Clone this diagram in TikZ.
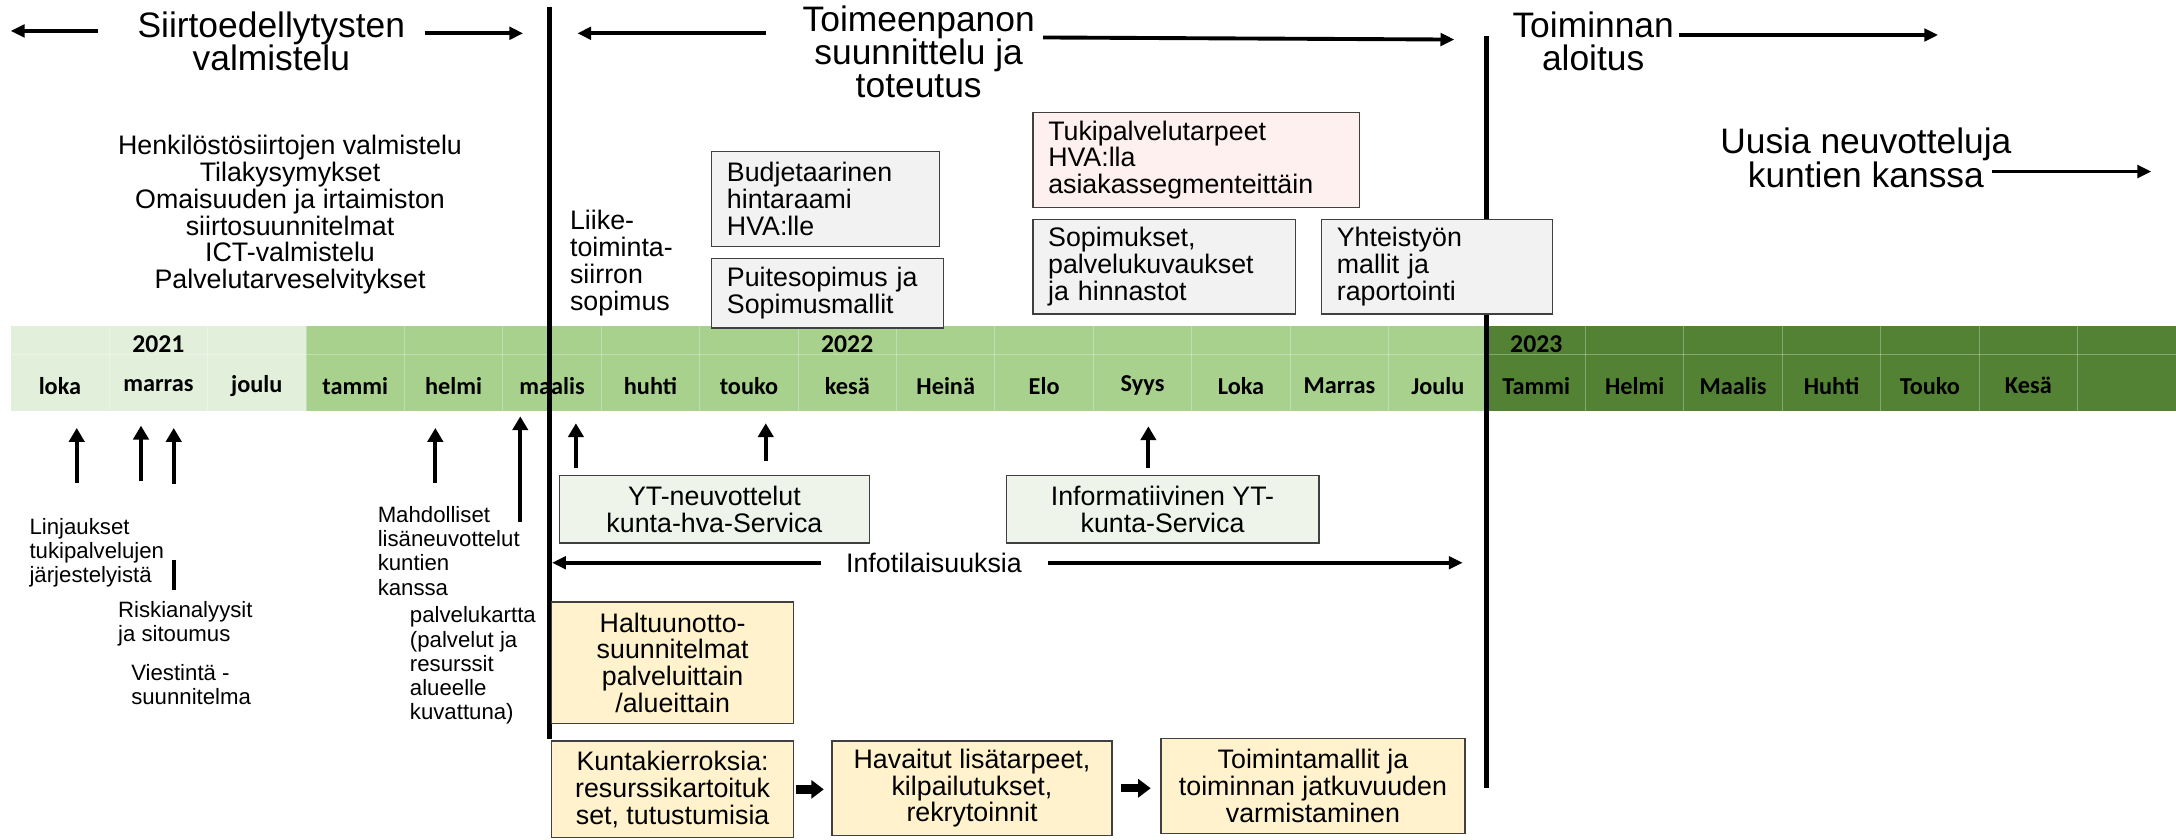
\documentclass[tikz,border=0pt]{standalone}
\usepackage{fontspec}
\setmainfont{Liberation Sans}
\newfontfamily\calibri{Carlito}
\usetikzlibrary{arrows.meta}
\usetikzlibrary{positioning}

\definecolor{kk21}{HTML}{E2EFDA}
\definecolor{kk22}{HTML}{A9D18E}
\definecolor{kk23}{HTML}{548235}
\definecolor{harmaa}{HTML}{F2F2F2}
\definecolor{roosa}{HTML}{FDF0EF}
\definecolor{minttu}{HTML}{EEF4EA}
\definecolor{keltainen}{HTML}{FFF2CC}
\definecolor{reuna}{HTML}{404040}

\begin{document}
\begin{tikzpicture}[x=1pt,y=-1pt,
      otsikko/.style={font=\fontsize{25.5}{24}\selectfont,align=center,inner sep=0pt},
      teksti/.style={font=\fontsize{19.3}{19.3}\selectfont,inner sep=0pt},
      pieni/.style={font=\fontsize{16}{17.5}\selectfont,align=left,anchor=west,inner sep=0pt},
      laatikko/.style={teksti,draw=reuna,line width=0.9pt},
      vasen/.style={laatikko,align=left,inner xsep=11pt},
      keski/.style={laatikko,align=center},
      kk/.style={font=\calibri\bfseries\fontsize{17.5}{17.5}\selectfont,inner sep=0pt},
      vuosi/.style={font=\calibri\bfseries\fontsize{18.5}{18.5}\selectfont,inner sep=0pt},
      nuoli/.style={line width=2.8pt,-{Triangle[length=10pt,width=9pt]}},
      ylos/.style={line width=3pt,-{Triangle[length=10pt,width=11pt]}},
      iso/.style={line width=6pt,-{Triangle[length=9pt,width=13pt]}},
      raja/.style={line width=3.6pt}]
      \fill[white] (0,0) rectangle (1568,605);
      \useasboundingbox (0,0) rectangle (1568,605);

      % aikajana
      \fill[kk21] (7.7,234.7) rectangle (220.7,296.4);
      \fill[kk22] (220.7,234.7) rectangle (1071,296.4);
      \fill[kk23] (1071,234.7) rectangle (1568,296.4);
      \foreach \i in {1,...,21}
        \draw[white,opacity=0.3,line width=0.6pt] (7.7+70.92*\i,234.7) -- ++(0,61.7);
      \draw[white,opacity=0.3,line width=0.6pt] (7.7,255.6) -- (1568,255.6);
      \node[vuosi] (v2021) at (114.1,248) {2021};
      \node[vuosi] (v2022) at (610.5,248) {2022};
      \node[vuosi] (v2023) at (1107,248) {2023};
      \foreach \m [count=\i from 0] in {loka,marras,joulu,tammi,helmi,maalis,huhti,touko,kesä,Heinä,Elo,Syys,Loka,Marras,Joulu,Tammi,Helmi,Maalis,Huhti,Touko,Kesä}
        \node[kk] (kk\i) at (43.2+70.92*\i,278) {\m};

      \coordinate (raja1a) at (396.3,4.8);
      \coordinate (raja1b) at (396.3,532.8);
      \coordinate (raja2a) at (1071,25.9);
      \coordinate (raja2b) at (1071,567.6);
      \draw[raja] (raja1a) -- (raja1b);
      \draw[raja] (raja2a) -- (raja2b);

      % vaiheet
      \node[otsikko] (siirto) at (195.5,29.7) {Siirtoedellytysten\\valmistelu};
      \node[otsikko] (toimeen) at (662,37.5) {Toimeenpanon\\suunnittelu ja\\toteutus};
      \node[otsikko] (aloitus) at (1148,29.7) {Toiminnan\\aloitus};
      \node[otsikko] (uusia) at (1344.5,113.7) {Uusia neuvotteluja\\kuntien kanssa};
      \coordinate (s1) at (70.7,22.3);  \coordinate (s0) at (7.7,22.3);
      \coordinate (s2) at (306,24);     \coordinate (s3) at (377,24);
      \coordinate (t1) at (552,24);     \coordinate (t0) at (416,24);
      \coordinate (t2) at (751.7,27);   \coordinate (t3) at (1048,28.5);
      \coordinate (a1) at (1210,25.2);  \coordinate (a2) at (1396.6,25.2);
      \coordinate (u1) at (1435.3,123.6); \coordinate (u2) at (1550.2,123.6);
      \draw[nuoli] (s1) -- (s0);
      \draw[nuoli] (s2) -- (s3);
      \draw[nuoli] (t1) -- (t0);
      \draw[nuoli] (t2) -- (t3);
      \draw[nuoli] (a1) -- (a2);
      \draw[nuoli] (u1) -- (u2);

      \node[teksti,align=center] (valmistelu) at (209,154.8) {Henkilöstösiirtojen valmistelu\\Tilakysymykset\\Omaisuuden ja irtaimiston\\siirtosuunnitelmat\\ICT-valmistelu\\Palvelutarveselvitykset};
      \node[teksti,align=left,anchor=west,font=\fontsize{19.3}{19.5}\selectfont] (liike) at (410.6,189.8) {Liike-\\toiminta-\\siirron\\sopimus};

      \node[vasen,fill=harmaa,text width=142pt,minimum height=68.4pt] (budjetti) at (594.8,143.4) {Budjetaarinen\\hintaraami\\HVA:lle};
      \node[vasen,fill=harmaa,text width=144.9pt,minimum height=50.4pt] (puite) at (596.3,211.2) {Puitesopimus ja\\Sopimusmallit};
      \node[vasen,fill=roosa,text width=213.3pt,minimum height=68.2pt] (tuki) at (862,115.2) {Tukipalvelutarpeet\\HVA:lla\\asiakassegmenteittäin};
      \node[vasen,fill=harmaa,text width=167.2pt,minimum height=68.4pt] (sopimukset) at (838.9,192.1) {Sopimukset,\\palvelukuvaukset\\ja hinnastot};
      \node[vasen,fill=harmaa,text width=144.4pt,minimum height=68.4pt] (yhteistyo) at (1035.5,192.1) {Yhteistyön\\mallit ja\\raportointi};

      % nuolet aikajanalle
      \foreach \x/\a/\b [count=\i] in {55.3/348/308.4,101.6/346.8/306.7,125.2/348.5/308.4,313.7/348/308.4,374.9/376.3/300,415/337.2/305,551.8/332.4/305,827.5/337.2/307.2} {
        \coordinate (ala\i) at (\x,\a);
        \coordinate (yla\i) at (\x,\b);
        \draw[ylos] (ala\i) -- (yla\i);
      }
      \coordinate (palkki1) at (125.2,403.2);
      \coordinate (palkki2) at (125.2,424.8);
      \draw[line width=3pt] (palkki1) -- (palkki2);

      \node[pieni] (linjaukset) at (21.1,398.4) {Linjaukset\\tukipalvelujen\\järjestelyistä};
      \node[pieni] (riski) at (84.9,449.6) {Riskianalyysit\\ja sitoumus};
      \node[pieni] (viestinta) at (94.4,493.2) {Viestintä -\\suunnitelma};
      \node[pieni] (mahdolliset) at (272,396.8) {Mahdolliset\\lisäneuvottelut\\kuntien\\kanssa};
      \node[pieni] (kartta) at (295.2,479.6) {palvelukartta\\(palvelut ja\\resurssit\\alueelle\\kuvattuna)};

      \node[keski,fill=minttu,minimum width=223.2pt,minimum height=48.7pt] (yt) at (514.8,366.9) {YT-neuvottelut\\kunta-hva-Servica};
      \node[keski,fill=minttu,minimum width=225.4pt,minimum height=48.7pt] (infoyt) at (837.7,366.9) {Informatiivinen YT-\\kunta-Servica};

      \node[teksti] (info) at (673,405.5) {Infotilaisuuksia};
      \draw[nuoli] ([xshift=-17.6pt]info.west) -- ([xshift=1.5pt]info.west -| raja1a);
      \draw[nuoli] ([xshift=19pt]info.east) -- ([xshift=-17pt]info.east -| raja2a);

      \node[keski,fill=keltainen,minimum width=174.2pt,minimum height=87.6pt] (haltuun) at (484.7,477.5) {Haltuunotto-\\suunnitelmat\\palveluittain\\/alueittain};
      \node[keski,fill=keltainen,minimum width=174.2pt,minimum height=69.6pt] (kunta) at (484.7,568.8) {Kuntakierroksia:\\resurssikartoituk\\set, tutustumisia};
      \node[keski,fill=keltainen,minimum width=201.9pt,minimum height=68pt] (havaitut) at (700.4,568) {Havaitut lisätarpeet,\\kilpailutukset,\\rekrytoinnit};
      \node[keski,fill=keltainen,minimum width=219pt,minimum height=68.4pt] (toimintamallit) at (946.1,566.3) {Toimintamallit ja\\toiminnan jatkuvuuden\\varmistaminen};
      \draw[iso,shorten <=1pt,shorten >=5.4pt] (kunta.east) -- (kunta.east -| havaitut.west);
      \draw[iso,shorten <=6.3pt,shorten >=7pt] (havaitut.east) -- (havaitut.east -| toimintamallit.west);
    \end{tikzpicture}
\end{document}
